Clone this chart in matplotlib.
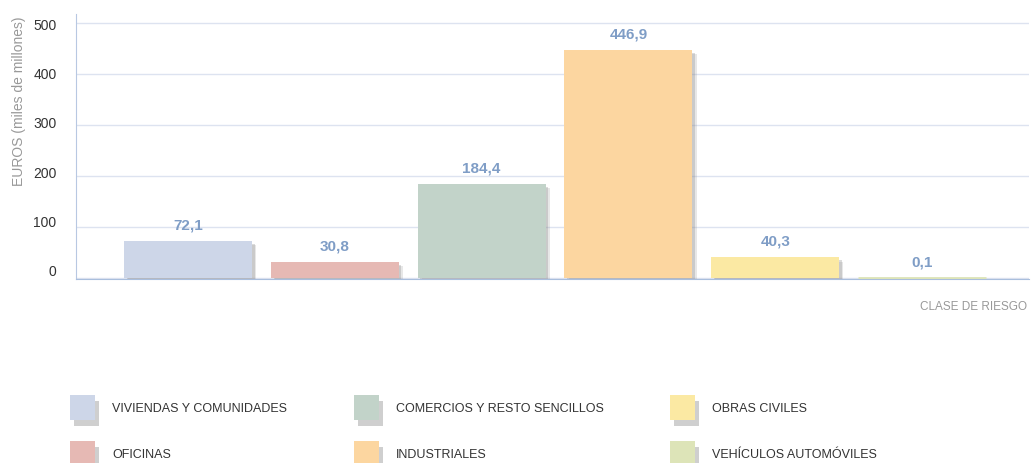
import matplotlib
matplotlib.use("Agg")
import matplotlib.pyplot as plt
import matplotlib.patheffects as pe
from matplotlib.patches import Rectangle
from matplotlib.transforms import ScaledTranslation

# datos
categorias = ["VIVIENDAS Y COMUNIDADES", "OFICINAS", "COMERCIOS Y RESTO SENCILLOS",
              "INDUSTRIALES", "OBRAS CIVILES", "VEHÍCULOS AUTOMÓVILES"]
valores = [72.1, 30.8, 184.4, 446.9, 40.3, 0.1]
etiquetas = ["72,1", "30,8", "184,4", "446,9", "40,3", "0,1"]
colores = ["#CDD6E8", "#E6B9B4", "#C2D3C9", "#FCD6A0", "#FBE9A3", "#DDE4B8"]
yticks = [0, 100, 200, 300, 400, 500]

plt.rcParams['font.family'] = ['Liberation Sans', 'DejaVu Sans']

fig = plt.figure(figsize=(10.31, 4.64), dpi=100)
W, H = 1031, 464
ax = fig.add_axes([76 / W, 1 - 280 / H, (1029 - 76) / W, (280 - 15) / H])

x = list(range(len(valores)))
sombra = [pe.SimplePatchShadow(offset=(3, -3), shadow_rgbFace='#888888', alpha=0.2),
          pe.SimplePatchShadow(offset=(2, -2), shadow_rgbFace='#888888', alpha=0.3),
          pe.Normal()]
bars = ax.bar(x, valores, width=0.871, color=colores, edgecolor=colores,
              linewidth=[0, 0, 0, 0, 0, 2], zorder=3)
for b in bars:
    b.set_path_effects(sombra)

for xi, v, t in zip(x, valores, etiquetas):
    ax.annotate(t, (xi, v), xytext=(0, 12), textcoords='offset points',
                ha='center', va='center', fontsize=11, fontweight='bold',
                color='#7F9DC6', zorder=4)

ax.set_xlim(-0.762, 5.728)
ax.set_ylim(-2, 518)
ax.set_xticks([])
ax.set_yticks(yticks)
ax.set_yticklabels([str(t) for t in yticks], fontsize=10, color='#333333')
ax.tick_params(axis='y', length=0, pad=14)
# las etiquetas del eje quedan algo por encima de la rejilla
for t, lab in zip(yticks, ax.get_yticklabels()):
    dy = (500 - t) / 500 * 8 / 100
    lab.set_transform(lab.get_transform() + ScaledTranslation(0, dy, fig.dpi_scale_trans))
ax.grid(axis='y', color='#DDE3F0', linewidth=1, zorder=0)
for s in ['top', 'right']:
    ax.spines[s].set_visible(False)
ax.spines['left'].set_color('#B8C8E2')
ax.spines['bottom'].set_color('#A9BEDD')

fig.text(19 / W, 1 - 101 / H, "EUROS (miles de millones)", rotation=90,
         ha='center', va='center', fontsize=10, color='#999999')
fig.text(1027 / W, 1 - 307 / H, "CLASE DE RIESGO", ha='right', va='center',
         fontsize=8.5, color='#999999')

# leyenda manual
col_x = [70, 354, 670]
fila_y = [396, 442]
for i, (cat, c) in enumerate(zip(categorias, colores)):
    cx = col_x[i // 2]
    cy = fila_y[i % 2]
    r = Rectangle((cx / W, 1 - (cy + 25) / H), 25 / W, 25 / H, transform=fig.transFigure,
                  facecolor=c, edgecolor='none')
    r.set_path_effects([pe.SimplePatchShadow(offset=(3, -4), shadow_rgbFace='#777777', alpha=0.35),
                        pe.Normal()])
    fig.patches.append(r)
    fig.text((cx + 42) / W, 1 - (cy + 13) / H, cat, ha='left', va='center',
             fontsize=9, color='#333333')

fig.savefig("out.png", dpi=100)
